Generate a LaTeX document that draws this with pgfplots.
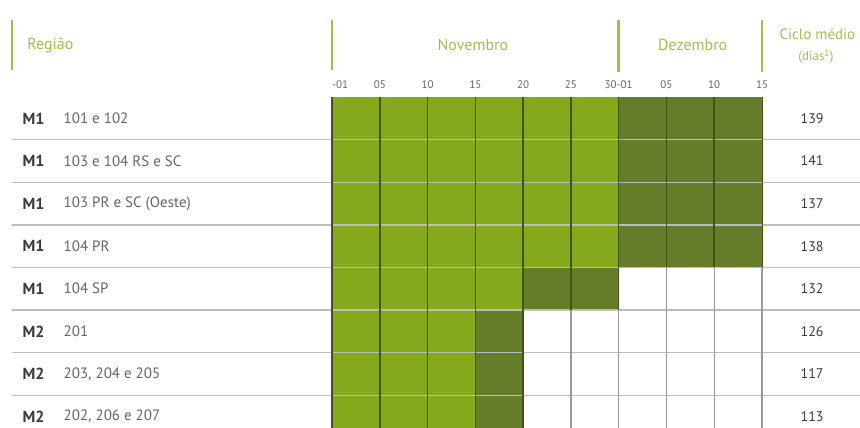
\documentclass[border=0pt]{standalone}
\usepackage{pgfplots}
\pgfplotsset{compat=1.18}
\usepackage{fontspec}
\setmainfont{PT Sans}
\definecolor{lightg}{HTML}{86A81C}
\definecolor{darkg}{HTML}{657C2A}
\definecolor{gline}{HTML}{3E5612}
\definecolor{hdr}{HTML}{A2BE4C}
\definecolor{txt}{HTML}{646464}
\definecolor{txtd}{HTML}{3A3A3A}
\definecolor{hline}{HTML}{BDBDBD}
\definecolor{vgray}{HTML}{9A9A9A}
\begin{document}
\begin{tikzpicture}
\begin{axis}[width=860pt,height=427pt,scale only axis,
 xmin=-6.949,xmax=11.051,ymin=-2.277,ymax=7.746,y dir=reverse,
 axis lines=none, xtick=\empty, ytick=\empty, clip=true]
\path (rel axis cs:0,0) rectangle (rel axis cs:1,1);
% dark part (light+dark total)
\addplot[xbar, bar width=1, bar shift=0pt, fill=darkg, draw=none] coordinates {(9,0.5)(9,1.5)(9,2.5)(9,3.5)(6,4.5)(4,5.5)(4,6.5)(4,7.5)};
% light part
\addplot[xbar, bar width=1, bar shift=0pt, fill=lightg, draw=none] coordinates {(6,0.5)(6,1.5)(6,2.5)(6,3.5)(4,4.5)(3,5.5)(3,6.5)(3,7.5)};
% horizontal separators
\draw[hline, line width=1.4pt] (axis cs:-6.70,1) -- (axis cs:11.1,1);
\draw[hline, line width=1.4pt] (axis cs:-6.70,2) -- (axis cs:11.1,2);
\draw[hline, line width=1.4pt] (axis cs:-6.70,3) -- (axis cs:11.1,3);
\draw[hline, line width=1.4pt] (axis cs:-6.70,4) -- (axis cs:11.1,4);
\draw[hline, line width=1.4pt] (axis cs:-6.70,5) -- (axis cs:11.1,5);
\draw[hline, line width=1.4pt] (axis cs:-6.70,6) -- (axis cs:11.1,6);
\draw[hline, line width=1.4pt] (axis cs:-6.70,7) -- (axis cs:11.1,7);
% vertical grid lines
\draw[gline, line width=1.6pt] (axis cs:0,0) -- (axis cs:0,7.8);
\draw[gline, line width=1.6pt] (axis cs:1,0) -- (axis cs:1,7.8);
\draw[gline, line width=1.6pt] (axis cs:2,0) -- (axis cs:2,7.8);
\draw[gline, line width=1.6pt] (axis cs:3,0) -- (axis cs:3,7.8);
\draw[gline, line width=1.6pt] (axis cs:4,0) -- (axis cs:4,7.8);
\draw[gline, line width=1.6pt] (axis cs:5,0) -- (axis cs:5,5);
\draw[gline, line width=1.6pt] (axis cs:6,0) -- (axis cs:6,5);
\draw[vgray, line width=1.4pt] (axis cs:5,5) -- (axis cs:5,7.8);
\draw[vgray, line width=1.4pt] (axis cs:6,5) -- (axis cs:6,7.8);
\draw[gline, line width=1.6pt] (axis cs:7,0) -- (axis cs:7,4);
\draw[gline, line width=1.6pt] (axis cs:8,0) -- (axis cs:8,4);
\draw[gline, line width=1.0pt] (axis cs:9,0) -- (axis cs:9,4);
\draw[vgray, line width=1.4pt] (axis cs:7,4) -- (axis cs:7,7.8);
\draw[vgray, line width=1.4pt] (axis cs:8,4) -- (axis cs:8,7.8);
\draw[vgray, line width=1.4pt] (axis cs:9,4) -- (axis cs:9,7.8);
% header bars
\draw[hdr, line width=2.4pt] (axis cs:-6.70,-1.81) -- (axis cs:-6.70,-0.63);
\draw[hdr, line width=2.4pt] (axis cs:0,-1.81) -- (axis cs:0,-0.63);
\draw[hdr, line width=2.4pt] (axis cs:6,-1.81) -- (axis cs:6,-0.58);
\draw[hdr, line width=2.4pt] (axis cs:9,-1.81) -- (axis cs:9,-0.58);
% header texts
\node[anchor=west, text=hdr, font=\fontsize{16}{18}\selectfont] at (axis cs:-6.45,-1.22) {Região};
\node[text=hdr, font=\fontsize{16}{18}\selectfont] at (axis cs:2.95,-1.22) {Novembro};
\node[text=hdr, font=\fontsize{16}{18}\selectfont] at (axis cs:7.55,-1.22) {Dezembro};
\node[text=hdr, font=\fontsize{15}{17}\selectfont] at (axis cs:10.16,-1.48) {Ciclo médio};
\node[text=hdr, font=\fontsize{13}{15}\selectfont] at (axis cs:10.13,-0.95) {(dias\textsuperscript{1})};
% day ticks
\node[anchor=west, text=txt, font=\fontsize{11}{12}\selectfont, inner sep=0pt] at (axis cs:0,-0.28) {-01};
\node[text=txt, font=\fontsize{11}{12}\selectfont] at (axis cs:1,-0.28) {05};
\node[text=txt, font=\fontsize{11}{12}\selectfont] at (axis cs:2,-0.28) {10};
\node[text=txt, font=\fontsize{11}{12}\selectfont] at (axis cs:3,-0.28) {15};
\node[text=txt, font=\fontsize{11}{12}\selectfont] at (axis cs:4,-0.28) {20};
\node[text=txt, font=\fontsize{11}{12}\selectfont] at (axis cs:5,-0.28) {25};
\node[text=txt, font=\fontsize{11}{12}\selectfont] at (axis cs:6,-0.28) {30-01};
\node[text=txt, font=\fontsize{11}{12}\selectfont] at (axis cs:7,-0.28) {05};
\node[text=txt, font=\fontsize{11}{12}\selectfont] at (axis cs:8,-0.28) {10};
\node[text=txt, font=\fontsize{11}{12}\selectfont] at (axis cs:9,-0.28) {15};
% row labels
\node[anchor=west, text=txtd, font=\fontsize{16}{18}\selectfont\bfseries] at (axis cs:-6.55,0.5) {M1};
\node[anchor=west, text=txtd, font=\fontsize{16}{18}\selectfont\bfseries] at (axis cs:-6.55,1.5) {M1};
\node[anchor=west, text=txtd, font=\fontsize{16}{18}\selectfont\bfseries] at (axis cs:-6.55,2.5) {M1};
\node[anchor=west, text=txtd, font=\fontsize{16}{18}\selectfont\bfseries] at (axis cs:-6.55,3.5) {M1};
\node[anchor=west, text=txtd, font=\fontsize{16}{18}\selectfont\bfseries] at (axis cs:-6.55,4.5) {M1};
\node[anchor=west, text=txtd, font=\fontsize{16}{18}\selectfont\bfseries] at (axis cs:-6.55,5.5) {M2};
\node[anchor=west, text=txtd, font=\fontsize{16}{18}\selectfont\bfseries] at (axis cs:-6.55,6.5) {M2};
\node[anchor=west, text=txtd, font=\fontsize{16}{18}\selectfont\bfseries] at (axis cs:-6.55,7.5) {M2};
\node[anchor=west, text=txt, font=\fontsize{15}{17}\selectfont] at (axis cs:-5.69,0.5) {101 e 102};
\node[anchor=west, text=txt, font=\fontsize{15}{17}\selectfont] at (axis cs:-5.69,1.5) {103 e 104 RS e SC};
\node[anchor=west, text=txt, font=\fontsize{15}{17}\selectfont] at (axis cs:-5.69,2.5) {103 PR e SC (Oeste)};
\node[anchor=west, text=txt, font=\fontsize{15}{17}\selectfont] at (axis cs:-5.69,3.5) {104 PR};
\node[anchor=west, text=txt, font=\fontsize{15}{17}\selectfont] at (axis cs:-5.69,4.5) {104 SP};
\node[anchor=west, text=txt, font=\fontsize{15}{17}\selectfont] at (axis cs:-5.69,5.5) {201};
\node[anchor=west, text=txt, font=\fontsize{15}{17}\selectfont] at (axis cs:-5.69,6.5) {203, 204 e 205};
\node[anchor=west, text=txt, font=\fontsize{15}{17}\selectfont] at (axis cs:-5.69,7.5) {202, 206 e 207};
% cycle values
\addplot[only marks, mark=none, nodes near coords, point meta=explicit symbolic,
  nodes near coords style={anchor=center, text=txtd, font=\fontsize{14}{16}\selectfont}]
  table[meta=v] {
x y v
10.05 0.5 139
10.05 1.5 141
10.05 2.5 137
10.05 3.5 138
10.05 4.5 132
10.05 5.5 126
10.05 6.5 117
10.05 7.5 113
};
\end{axis}
\end{tikzpicture}
\end{document}
